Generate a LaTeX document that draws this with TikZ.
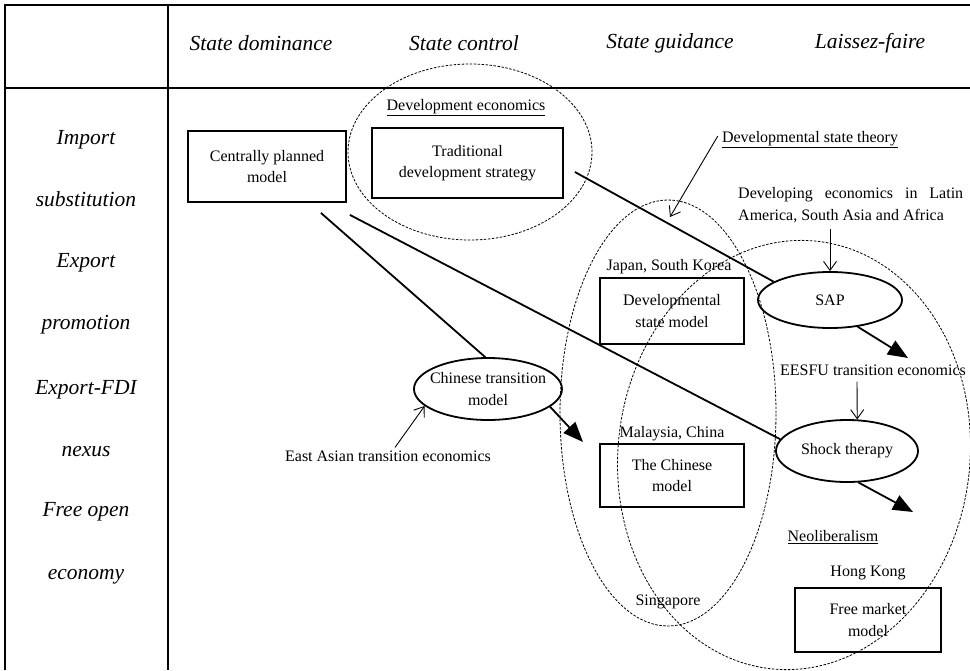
\documentclass[tikz,border=0pt]{standalone}
\usepackage{fontspec}
\setmainfont{Liberation Serif}[ItalicFont={Liberation Serif Italic}]
\usetikzlibrary{arrows.meta,calc,shapes.geometric}
\begin{document}
\begin{tikzpicture}[x=1pt,y=-1pt,
  rule/.style={line width=2pt},
  hdr/.style={font=\fontsize{21.5}{25}\selectfont\itshape, inner sep=0pt},
  rowlab/.style={font=\fontsize{21.5}{62.5}\selectfont\itshape, align=center, inner sep=0pt},
  txt/.style={font=\fontsize{16}{21.5}\selectfont, inner sep=0pt, align=center},
  box/.style={txt, draw, line width=1.8pt},
  oval/.style={draw, ellipse, line width=1.8pt, inner sep=0pt},
  zone/.style={draw, line width=0.8pt, dash pattern=on 2.5pt off 1.5pt},
  link/.style={line width=1.8pt},
  push/.style={line width=1.8pt, -{Triangle[length=20pt,width=16pt]}},
  hint/.style={line width=0.9pt, -{Straight Barb[length=9pt,width=13pt]}},
]
\useasboundingbox (0,0) rectangle (970,670);

% table frame
\draw[rule] (4,5) -- (970,5);
\draw[rule] (4,88) -- (970,88);
\draw[rule] (5,4) -- (5,670);
\draw[rule] (168,4) -- (168,670);

% column headers
\node[hdr] (h1) at (261,43) {State dominance};
\node[hdr] (h2) at (464,43) {State control};
\node[hdr] (h3) at (670,43) {State guidance};
\node[hdr] (h4) at (870,43) {Laissez-faire};

% row headers
\node[rowlab] (r1) at (86,168.5) {Import\\substitution};
\node[rowlab] (r2) at (86,293.5) {Export\\promotion};
\node[rowlab] (r3) at (86,418.5) {Export-FDI\\nexus};
\node[rowlab] (r4) at (86,543.5) {Free open\\economy};

% schools of thought (dashed zones)
\draw[zone] (470,152) ellipse [x radius=122pt, y radius=88pt];
\draw[zone] (668,413) ellipse [x radius=108pt, y radius=213pt];
\draw[zone, rotate around={-6:(794,455)}] (794,455) ellipse [x radius=176pt, y radius=215pt];

% models
\node[box, minimum width=158pt, minimum height=71pt] (cp) at (267,166.5) {Centrally planned\\model};
\node[txt] (de) at (466,108) {\underline{Development economics}};
\node[box, minimum width=191pt, minimum height=70pt] (trad) at (467.5,163) {Traditional\\development strategy};
\node[txt] (dst) at (810,140) {\underline{Developmental state theory}};
\node[txt, anchor=west, align=left] (lat) at (738,205) {\makebox[225pt][s]{Developing economics in Latin}\\America, South Asia and Africa};

\node[oval, minimum width=144pt, minimum height=56pt] (sap) at (830,300) {};
\node[txt] (sapt) at (sap) {SAP};

\node[txt] (jsk) at (669,267) {Japan, South Korea};
\node[box, minimum width=144pt, minimum height=66pt] (dsm) at (672,311) {Developmental\\state model};

\node[oval, minimum width=148pt, minimum height=62pt] (chin) at (488,389) {};
\node[txt] (chint) at (chin) {Chinese transition\\model};
\node[txt] (eat) at (388,456) {East Asian transition economics};

\node[txt] (eesfu) at (873,370) {EESFU transition economics};
\node[oval, minimum width=142pt, minimum height=62pt] (shock) at (847,451) {};
\node[txt] (shockt) at (shock) {Shock therapy};

\node[txt] (mc) at (672,434) {Malaysia, China};
\node[box, minimum width=144pt, minimum height=63pt] (cm) at (672,475.5) {The Chinese\\model};

\node[txt] (neo) at (833,537) {\underline{Neoliberalism}};
\node[txt] (hk) at (868,573) {Hong Kong};
\node[box, minimum width=146pt, minimum height=64pt] (fm) at (868,620) {Free market\\model};
\node[txt] (sg) at (668,602) {Singapore};

% transition paths
\coordinate (cp1) at ($(cp.south east)+(-26,10)$);
\coordinate (cp2) at ($(cp.south east)+(3,12)$);
\coordinate (tr1) at ($(trad.east)+(11,9)$);
\draw[link] (cp1) -- (chin.95);
\draw[link] (cp2) -- (shock.170);
\draw[link] (tr1) -- (sap.162);

\coordinate (chtip) at (583,442);
\coordinate (saptip) at (908,358);
\coordinate (shtip) at (913,512);
\draw[push] (chin.-16) -- (chtip);
\draw[push] (sap.-44) -- (saptip);
\draw[push] (shock.-70) -- (shtip);

% pointers from the labels
\coordinate (dsttip) at (670,217);
\draw[hint] ($(dst.west)+(-4,-4)$) -- (dsttip);
\draw[hint] ($(lat.south -| sap.north)+(0,6)$) -- (sap.north);
\draw[hint] ($(eesfu.south)+(-16,6)$) -- (shock.72);
\draw[hint] ($(eat.north)+(7,-3)$) -- (chin.195);
\end{tikzpicture}
\end{document}
